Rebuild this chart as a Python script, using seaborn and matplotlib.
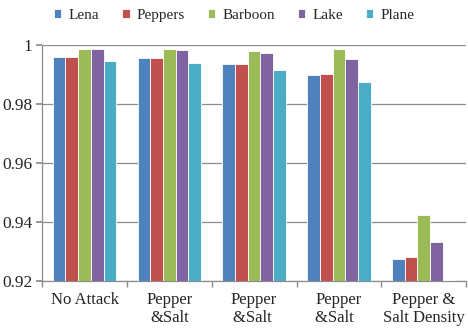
#!/usr/bin/env python3
"""Grouped bar chart: NC values of five test images under different attacks."""

import matplotlib.pyplot as plt
import pandas as pd
import seaborn as sns
from matplotlib.ticker import FixedLocator, FuncFormatter

attacks = ["No Attack", "Pepper\n&Salt", "Pepper\n&Salt ", "Pepper\n&Salt  ", "Pepper &\nSalt Density"]
images = ["Lena", "Peppers", "Barboon", "Lake", "Plane"]

lena = [0.9959, 0.9956, 0.9936, 0.9898, 0.9275]
peppers = [0.9959, 0.9956, 0.9936, 0.9902, 0.9281]
barboon = [0.9986, 0.9986, 0.9980, 0.9986, 0.9425]
lake = [0.9986, 0.9983, 0.9973, 0.9953, 0.9331]
plane = [0.9946, 0.9939, 0.9915, 0.9875, 0.9203]

colors = ["#4F81BD", "#C0504D", "#9BBB59", "#8064A2", "#4BACC6"]


def main():
    rows = []
    for name, vals in zip(images, [lena, peppers, barboon, lake, plane]):
        for a, v in zip(attacks, vals):
            rows.append({"attack": a, "image": name, "value": v})
    df = pd.DataFrame(rows)

    sns.set_theme(style="white")
    plt.rcParams["font.family"] = "serif"
    plt.rcParams["font.serif"] = ["Liberation Serif", "TeX Gyre Termes", "DejaVu Serif"]

    fig = plt.figure(figsize=(4.68, 3.29), dpi=100)
    ax = fig.add_axes([0.09, 0.146, 0.906, 0.717])

    sns.barplot(data=df, x="attack", y="value", hue="image", order=attacks,
                hue_order=images, palette=colors, saturation=1, width=0.75,
                edgecolor="white", linewidth=0.6, ax=ax, zorder=3)

    ax.set_ylim(0.92, 1.0)
    ax.set_xlim(-0.5, len(attacks) - 0.5)
    ax.yaxis.set_major_locator(FixedLocator([0.92, 0.94, 0.96, 0.98, 1.0]))
    ax.yaxis.set_major_formatter(FuncFormatter(lambda v, p: f"{v:g}"))
    ax.yaxis.grid(True, color="#8c8c8c", linewidth=0.9, zorder=0)
    ax.set_axisbelow(True)

    for side in ["top", "right"]:
        ax.spines[side].set_visible(False)
    for side in ["left", "bottom"]:
        ax.spines[side].set_color("#8c8c8c")
        ax.spines[side].set_linewidth(0.9)

    ax.tick_params(axis="y", direction="out", length=4, color="#8c8c8c",
                   labelsize=12.5, left=True, pad=3)
    ax.tick_params(axis="x", which="major", length=0, labelsize=12, pad=8)
    ax.set_xticks([i + 0.5 for i in range(-1, len(attacks))], minor=True)
    ax.tick_params(axis="x", which="minor", direction="out", length=4,
                   color="#8c8c8c", bottom=True)
    ax.set_xlabel("")
    ax.set_ylabel("")
    for lbl in ax.get_xticklabels():
        lbl.set_linespacing(1.15)

    handles, labels = ax.get_legend_handles_labels()
    ax.get_legend().remove()
    fig.legend(handles, labels, loc="upper center", bbox_to_anchor=(0.5, 1.015),
               ncol=5, frameon=False, fontsize=11, handlelength=0.5,
               handleheight=0.5, handletextpad=0.45, columnspacing=1.5)

    fig.savefig("out.png", dpi=100)


if __name__ == "__main__":
    main()
